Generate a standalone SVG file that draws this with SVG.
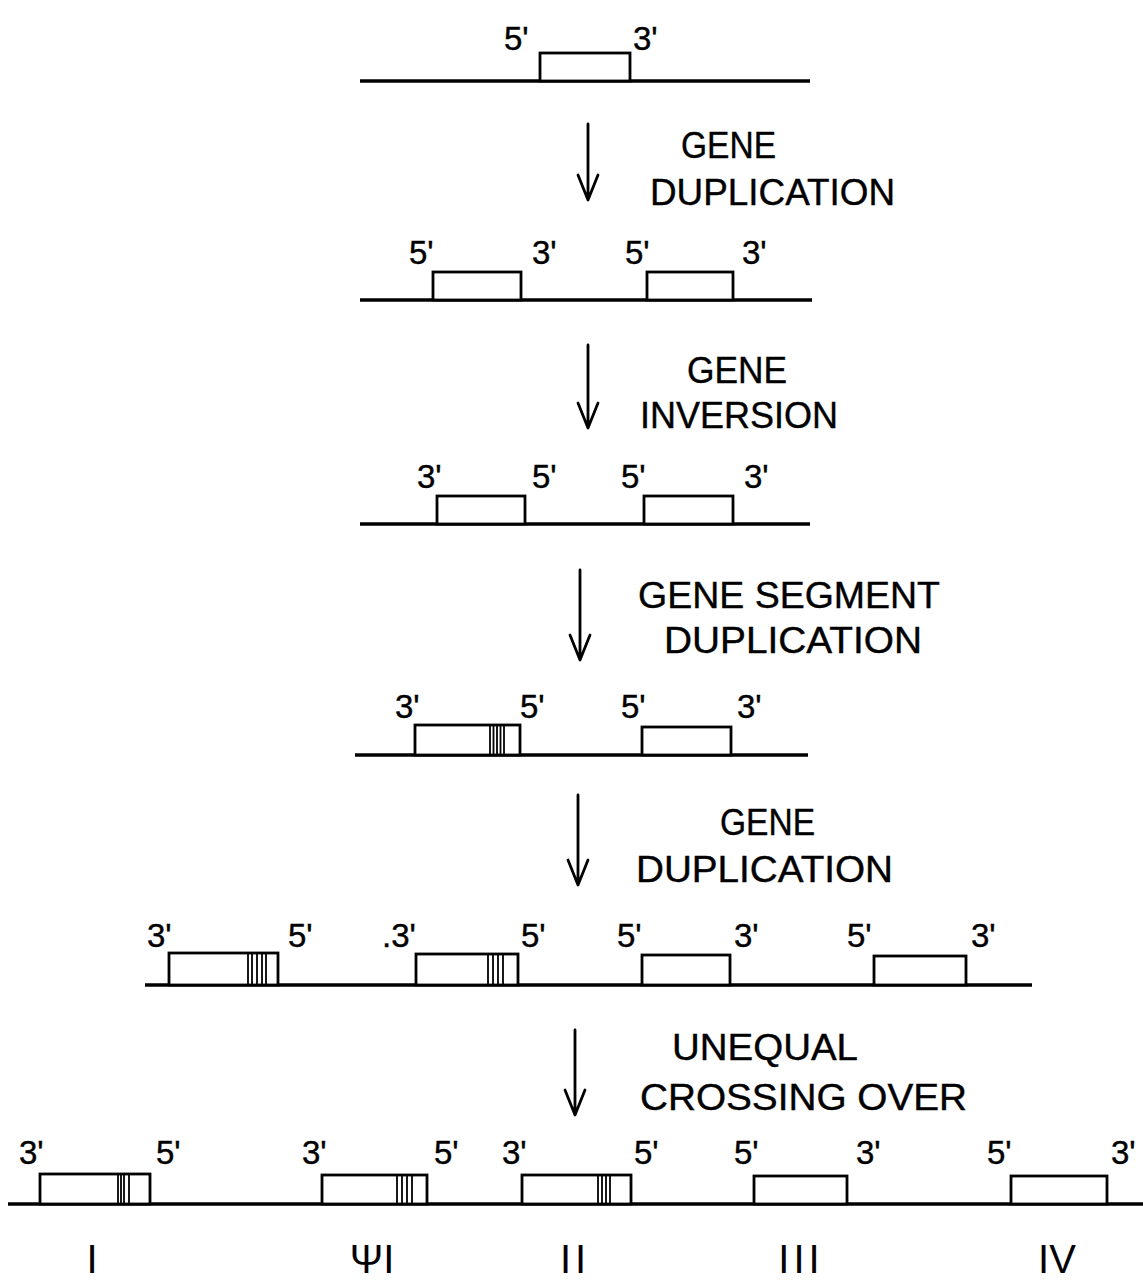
<svg xmlns="http://www.w3.org/2000/svg" width="1143" height="1280" viewBox="0 0 1143 1280">
<style>
.bg{fill:#fff}
.dna{stroke:#000;stroke-width:3.4;fill:none;stroke-linecap:butt}
.gene{stroke:#000;stroke-width:2.8;fill:#fff}
.st{stroke:#000;stroke-width:1.8}
.end{font-family:"Liberation Sans",Arial,sans-serif;font-size:33px;fill:#000;stroke:#000;stroke-width:0.4}
.lbl{font-family:"Liberation Sans",Arial,sans-serif;font-size:37px;fill:#000;stroke:#000;stroke-width:0.4}
.num{font-family:"Liberation Sans",Arial,sans-serif;font-size:40px;fill:#000}
.arr{stroke:#000;stroke-width:2.8;fill:none;stroke-linecap:round;stroke-linejoin:round}
</style>
<rect class="bg" x="0" y="0" width="1143" height="1280"/>

<g id="connectors">
  <path class="arr" d="M588 124V200M578 175L588 200L598 175"/>
  <path class="arr" d="M588 345V428M578 403L588 428L598 403"/>
  <path class="arr" d="M580 570V660M570 635L580 660L590 635"/>
  <path class="arr" d="M578 795V885M568 860L578 885L588 860"/>
  <path class="arr" d="M575 1030V1115M565 1090L575 1115L585 1090"/>
</g>

<g id="step-labels">
  <text class="lbl" x="681" y="158" textLength="95" lengthAdjust="spacingAndGlyphs">GENE</text>
  <text class="lbl" x="650" y="205" textLength="245" lengthAdjust="spacingAndGlyphs">DUPLICATION</text>
  <text class="lbl" x="687" y="383" textLength="100" lengthAdjust="spacingAndGlyphs">GENE</text>
  <text class="lbl" x="640" y="428" textLength="198" lengthAdjust="spacingAndGlyphs">INVERSION</text>
  <text class="lbl" x="638" y="608" textLength="302" lengthAdjust="spacingAndGlyphs">GENE SEGMENT</text>
  <text class="lbl" x="664" y="653" textLength="258" lengthAdjust="spacingAndGlyphs">DUPLICATION</text>
  <text class="lbl" x="720" y="835" textLength="95" lengthAdjust="spacingAndGlyphs">GENE</text>
  <text class="lbl" x="636" y="882" textLength="257" lengthAdjust="spacingAndGlyphs">DUPLICATION</text>
  <text class="lbl" x="672" y="1060" textLength="186" lengthAdjust="spacingAndGlyphs">UNEQUAL</text>
  <text class="lbl" x="640" y="1110" textLength="327" lengthAdjust="spacingAndGlyphs">CROSSING OVER</text>
</g>

<g id="row1">
  <line class="dna" x1="360" y1="81" x2="810" y2="81"/>
  <rect class="gene" x="540" y="53" width="90" height="28"/>
  <text class="end" x="504" y="50">5'</text>
  <text class="end" x="633" y="50">3'</text>
</g>

<g id="row2">
  <line class="dna" x1="360" y1="300" x2="812" y2="300"/>
  <rect class="gene" x="433" y="272" width="88" height="28"/>
  <rect class="gene" x="647" y="272" width="86" height="28"/>
  <text class="end" x="409" y="264">5'</text>
  <text class="end" x="532" y="264">3'</text>
  <text class="end" x="625" y="264">5'</text>
  <text class="end" x="742" y="264">3'</text>
</g>

<g id="row3">
  <line class="dna" x1="360" y1="524" x2="810" y2="524"/>
  <rect class="gene" x="437" y="496" width="88" height="28"/>
  <rect class="gene" x="644" y="496" width="89" height="28"/>
  <text class="end" x="417" y="488">3'</text>
  <text class="end" x="532" y="488">5'</text>
  <text class="end" x="621" y="488">5'</text>
  <text class="end" x="744" y="488">3'</text>
</g>

<g id="row4">
  <line class="dna" x1="355" y1="755" x2="808" y2="755"/>
  <rect class="gene" x="415" y="725" width="105" height="30"/>
  <path class="st" d="M490 725V755M493.5 725V755M497 725V755M500.5 725V755M504 725V755"/>
  <rect class="gene" x="642" y="727" width="89" height="28"/>
  <text class="end" x="395" y="718">3'</text>
  <text class="end" x="520" y="718">5'</text>
  <text class="end" x="621" y="718">5'</text>
  <text class="end" x="737" y="718">3'</text>
</g>

<g id="row5">
  <line class="dna" x1="145" y1="985" x2="1032" y2="985"/>
  <rect class="gene" x="169" y="953" width="109" height="32"/>
  <path class="st" d="M248 953V985M252 953V985M257 953V985M262 953V985M266 953V985"/>
  <rect class="gene" x="416" y="954" width="102" height="31"/>
  <path class="st" d="M488 954V985M493 954V985M498 954V985M503 954V985"/>
  <rect class="gene" x="642" y="955" width="88" height="30"/>
  <rect class="gene" x="874" y="956" width="92" height="29"/>
  <text class="end" x="147" y="947">3'</text>
  <text class="end" x="288" y="947">5'</text>
  <text class="end" x="382" y="947">.3'</text>
  <text class="end" x="521" y="947">5'</text>
  <text class="end" x="617" y="947">5'</text>
  <text class="end" x="734" y="947">3'</text>
  <text class="end" x="847" y="947">5'</text>
  <text class="end" x="971" y="947">3'</text>
</g>

<g id="row6">
  <line class="dna" x1="8" y1="1204" x2="1143" y2="1204"/>
  <rect class="gene" x="40" y="1174" width="110" height="30"/>
  <path class="st" d="M118 1174V1204M121 1174V1204M124 1174V1204M129 1174V1204"/>
  <rect class="gene" x="322" y="1175" width="105" height="29"/>
  <path class="st" d="M397 1175V1204M402 1175V1204M407 1175V1204M412 1175V1204"/>
  <rect class="gene" x="522" y="1175" width="109" height="29"/>
  <path class="st" d="M598 1175V1204M602 1175V1204M606 1175V1204M610 1175V1204"/>
  <rect class="gene" x="754" y="1176" width="93" height="28"/>
  <rect class="gene" x="1011" y="1176" width="96" height="28"/>
  <text class="end" x="19" y="1164">3'</text>
  <text class="end" x="156" y="1164">5'</text>
  <text class="end" x="302" y="1164">3'</text>
  <text class="end" x="434" y="1164">5'</text>
  <text class="end" x="502" y="1164">3'</text>
  <text class="end" x="634" y="1164">5'</text>
  <text class="end" x="734" y="1164">5'</text>
  <text class="end" x="856" y="1164">3'</text>
  <text class="end" x="987" y="1164">5'</text>
  <text class="end" x="1111" y="1164">3'</text>
</g>

<g id="gene-names">
  <text class="num" x="92" y="1273" text-anchor="middle">I</text>
  <text class="num" x="372" y="1273" text-anchor="middle">ΨI</text>
  <text class="num" x="575" y="1273" text-anchor="middle" letter-spacing="4">II</text>
  <text class="num" x="801" y="1273" text-anchor="middle" letter-spacing="4">III</text>
  <text class="num" x="1057" y="1273" text-anchor="middle">IV</text>
</g>
</svg>
